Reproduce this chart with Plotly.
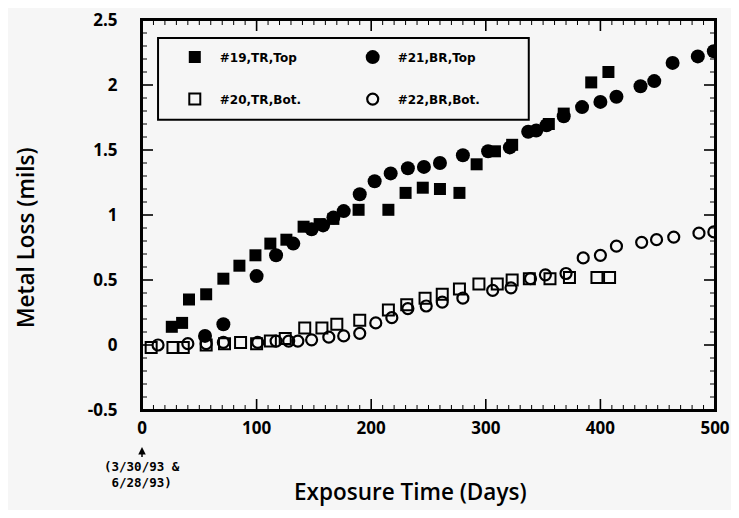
import plotly.graph_objects as go

# Series data (day, metal loss in mils)
days_19 = [26, 35, 41, 56, 71, 85, 99, 112, 126, 141, 155, 167, 189, 215, 230, 245, 260, 277, 292, 308, 323, 355, 368, 392, 407]
loss_19 = [0.14, 0.17, 0.35, 0.39, 0.51, 0.61, 0.69, 0.78, 0.81, 0.91, 0.93, 0.97, 1.04, 1.04, 1.17, 1.21, 1.20, 1.17, 1.39, 1.49, 1.54, 1.70, 1.78, 2.02, 2.10]

days_21 = [55, 71, 100, 117, 132, 148, 158, 167, 176, 190, 203, 217, 232, 246, 260, 280, 302, 321, 337, 344, 353, 368, 384, 400, 414, 435, 447, 463, 485, 499]
loss_21 = [0.07, 0.16, 0.53, 0.69, 0.78, 0.89, 0.92, 0.98, 1.03, 1.16, 1.26, 1.32, 1.36, 1.37, 1.40, 1.46, 1.49, 1.52, 1.64, 1.65, 1.69, 1.76, 1.83, 1.87, 1.91, 1.99, 2.03, 2.17, 2.22, 2.26]

days_20 = [8, 27, 36, 56, 72, 86, 100, 112, 125, 142, 157, 170, 190, 215, 231, 247, 262, 277, 294, 310, 323, 338, 356, 373, 397, 408]
loss_20 = [-0.02, -0.02, -0.02, 0.00, 0.01, 0.02, 0.01, 0.03, 0.05, 0.13, 0.13, 0.16, 0.19, 0.27, 0.31, 0.36, 0.39, 0.43, 0.47, 0.47, 0.50, 0.51, 0.51, 0.52, 0.52, 0.52]

days_22 = [14, 40, 56, 71, 101, 117, 128, 136, 148, 163, 176, 190, 204, 218, 232, 248, 262, 280, 306, 322, 339, 352, 370, 385, 400, 414, 436, 449, 464, 486, 499]
loss_22 = [0.00, 0.01, 0.01, 0.02, 0.02, 0.03, 0.03, 0.03, 0.04, 0.06, 0.07, 0.09, 0.17, 0.21, 0.28, 0.30, 0.33, 0.36, 0.42, 0.44, 0.51, 0.54, 0.55, 0.67, 0.69, 0.76, 0.79, 0.81, 0.83, 0.86, 0.87]

x_ticks = [0, 100, 200, 300, 400, 500]
x_minor_ticks = list(range(0, 501, 10))
y_ticks = [-0.5, 0, 0.5, 1, 1.5, 2, 2.5]
y_tick_labels = ["-0.5", "0", "0.5", "1", "1.5", "2", "2.5"]
y_minor_ticks = [round(-0.5 + 0.1 * i, 1) for i in range(31)]

BG = "#f6f6f6"
FONT = "Open Sans"

fig = go.Figure()
fig.add_trace(go.Scatter(x=days_19, y=loss_19, mode="markers", name="#19,TR,Top",
                         marker=dict(symbol="square", size=12, color="black"),
                         legend="legend", legendgroup="a"))
fig.add_trace(go.Scatter(x=days_20, y=loss_20, mode="markers", name="#20,TR,Bot.",
                         marker=dict(symbol="square-open", size=11, color="black", line=dict(width=2)),
                         legend="legend", legendgroup="b"))
fig.add_trace(go.Scatter(x=days_21, y=loss_21, mode="markers", name="#21,BR,Top",
                         marker=dict(symbol="circle", size=14, color="black"),
                         legend="legend2", legendgroup="c"))
fig.add_trace(go.Scatter(x=days_22, y=loss_22, mode="markers", name="#22,BR,Bot.",
                         marker=dict(symbol="circle-open", size=11, color="black", line=dict(width=2.2)),
                         legend="legend2", legendgroup="d"))

axis_common = dict(showline=True, linecolor="black", linewidth=2, mirror=True,
                   ticks="outside", tickcolor="rgba(0,0,0,0)",
                   showgrid=False, zeroline=False, automargin=False,
                   ticklabeloverflow="allow",
                   tickfont=dict(family=FONT, size=17, color="black", weight="bold"))

fig.update_xaxes(range=[0, 500], tickmode="array", tickvals=x_ticks, ticklen=2, **axis_common)
fig.update_yaxes(range=[-0.5, 2.5], tickmode="array", tickvals=y_ticks, ticktext=y_tick_labels,
                 ticklen=19, **axis_common)

# inside tick marks (major + minor) on all four sides, placed through the axis scales
PLOT_W, PLOT_H = 573.0, 390.0
MAJ, MIN = 11.0, 5.0
shapes = []
for v in x_minor_ticks:
    ln = MAJ if v in x_ticks else MIN
    w = 1.6 if v in x_ticks else 1.0
    shapes.append(dict(type="line", xref="x", yref="paper", x0=v, x1=v, y0=0, y1=ln / PLOT_H,
                       line=dict(color="black", width=w)))
    shapes.append(dict(type="line", xref="x", yref="paper", x0=v, x1=v, y0=1 - ln / PLOT_H, y1=1,
                       line=dict(color="black", width=w)))
for v in y_minor_ticks:
    major = any(abs(v - t) < 1e-9 for t in y_ticks)
    ln = MAJ if major else MIN
    w = 1.6 if major else 1.0
    shapes.append(dict(type="line", xref="paper", yref="y", x0=0, x1=ln / PLOT_W, y0=v, y1=v,
                       line=dict(color="black", width=w)))
    shapes.append(dict(type="line", xref="paper", yref="y", x0=1 - ln / PLOT_W, x1=1, y0=v, y1=v,
                       line=dict(color="black", width=w)))
# plot frame and legend box
shapes.append(dict(type="rect", xref="paper", yref="paper", x0=0, x1=1, y0=0, y1=1,
                   line=dict(color="black", width=2), fillcolor="rgba(0,0,0,0)"))
shapes.append(dict(type="rect", xref="paper", yref="paper", x0=0.028, x1=0.675, y0=0.744, y1=0.954,
                   line=dict(color="black", width=2), fillcolor="rgba(0,0,0,0)"))

legend_common = dict(bgcolor="rgba(0,0,0,0)", borderwidth=0, yanchor="top", xanchor="left",
                     traceorder="grouped", tracegroupgap=23, itemwidth=40,
                     font=dict(family="DejaVu Sans", size=12, color="black", weight="bold"))

fig.update_layout(
    width=723, height=502,
    margin=dict(l=134, r=16, t=12, b=100, autoexpand=False),
    paper_bgcolor=BG, plot_bgcolor=BG,
    showlegend=True,
    legend=dict(x=0.0485, y=0.942, **legend_common),
    legend2=dict(x=0.359, y=0.942, **legend_common),
    shapes=shapes,
    annotations=[
        dict(text="Exposure Time (Days)", xref="paper", yref="paper", x=0.468, y=-0.210,
             xanchor="center", yanchor="middle", showarrow=False,
             font=dict(family=FONT, size=22.5, color="black", weight=600)),
        dict(text="Metal Loss (mils)", xref="paper", yref="paper", x=-0.204, y=0.441, textangle=-90,
             xanchor="center", yanchor="middle", showarrow=False,
             font=dict(family=FONT, size=22.5, color="black", weight=600)),
        dict(text="(3/30/93 &<br>6/28/93)", x=0, xref="x", yref="paper", y=-0.095,
             showarrow=True, arrowhead=2, arrowsize=1, arrowwidth=1.5, arrowcolor="black",
             ax=0, ay=27, font=dict(family="DejaVu Sans Mono", size=12.5, color="black", weight="bold")),
    ],
)

fig.write_html("out.html")
